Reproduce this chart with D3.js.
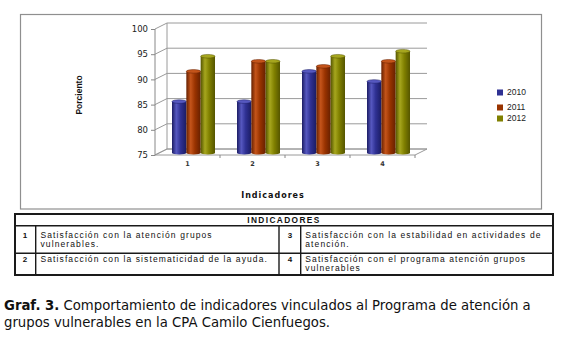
<!DOCTYPE html>
<html><head><meta charset="utf-8">
<script src="https://cdn.jsdelivr.net/npm/d3@7"></script>
<style>body{margin:0;background:#fff}svg{display:block}</style>
</head><body>
<script>
const categories = ["1","2","3","4"];
const seriesNames = ["2010","2011","2012"];
const values2010 = [85,85,91,89];
const values2011 = [91,93,92,93];
const values2012 = [94,93,94,95];
const yTicks = [75,80,85,90,95,100];
const tableNums = ["1","2","3","4"];
const tableTexts = [
  ["Satisfacción con la atención grupos","vulnerables."],
  ["Satisfacción con la sistematicidad de la ayuda."],
  ["Satisfacción con la estabilidad en actividades de","atención."],
  ["Satisfacción con el programa atención grupos","vulnerables"]
];
const tableTitle = "INDICADORES";
const yTitle = "Porciento";
const xTitle = "Indicadores";
const captionBold = "Graf. 3.";
const captionLine1 = " Comportamiento de indicadores vinculados al Programa de atención a";
const captionLine2 = "grupos vulnerables en la CPA Camilo Cienfuegos.";

const seriesValues = [values2010, values2011, values2012];
const colors = [
  {base:"#2f3193", light:"#5658c0", dark:"#1b1c63"},
  {base:"#993300", light:"#c4541a", dark:"#662000"},
  {base:"#808000", light:"#a6a61e", dark:"#555500"}
];

const W = 568, H = 340;
const svg = d3.select("body").append("svg").attr("width", W).attr("height", H);
svg.append("rect").attr("width", W).attr("height", H).attr("fill", "#fff");

const defs = svg.append("defs");
colors.forEach((c, i) => {
  const g = defs.append("linearGradient").attr("id", "cyl" + i)
    .attr("x1", "0%").attr("x2", "100%").attr("y1", "0%").attr("y2", "0%");
  g.append("stop").attr("offset", "0%").attr("stop-color", c.dark);
  g.append("stop").attr("offset", "30%").attr("stop-color", c.light);
  g.append("stop").attr("offset", "60%").attr("stop-color", c.base);
  g.append("stop").attr("offset", "100%").attr("stop-color", c.dark);
});

// chart border
svg.append("rect").attr("x", 20.5).attr("y", 14.5).attr("width", 521).attr("height", 194.5)
  .attr("fill", "none").attr("stroke", "#8f8f8f").attr("stroke-width", 1.2);

const dx = 12, dy = -6;
const y = d3.scaleLinear().domain([75, 100]).range([155, 29]);
const x = d3.scaleBand().domain(categories).range([155, 415]);
const xs = d3.scaleBand().domain(seriesNames).range([0, 43]);
const grid = "#9a9a9a";

const x0 = x.range()[0], x1 = x.range()[1];
yTicks.forEach(t => {
  svg.append("line").attr("x1", x0 + dx).attr("x2", x1 + dx)
    .attr("y1", y(t) + dy).attr("y2", y(t) + dy).attr("stroke", grid).attr("stroke-width", 1);
  svg.append("line").attr("x1", x0).attr("x2", x0 + dx)
    .attr("y1", y(t)).attr("y2", y(t) + dy).attr("stroke", grid).attr("stroke-width", 1);
});
svg.append("line").attr("x1", x0 + dx).attr("x2", x0 + dx)
  .attr("y1", y(100) + dy).attr("y2", y(75) + dy).attr("stroke", grid);
svg.append("path").attr("d", `M${x0},${y(75)}L${x1},${y(75)}L${x1 + dx},${y(75) + dy}L${x0 + dx},${y(75) + dy}Z`)
  .attr("fill", "none").attr("stroke", grid);
svg.append("line").attr("x1", x0).attr("x2", x0).attr("y1", y(100)).attr("y2", y(75)).attr("stroke", "#888");
const yAxis = svg.append("g").attr("transform", `translate(${x0},0)`)
  .call(d3.axisLeft(y).tickValues(yTicks).tickSize(4).tickPadding(3));
yAxis.select(".domain").remove();
yAxis.selectAll(".tick line").attr("stroke", "#888");
yAxis.selectAll(".tick text").attr("font-family", "DejaVu Sans").attr("font-size", 8.5).attr("fill", "#222");

const xAxis = svg.append("g").attr("transform", `translate(0,${y(75)})`)
  .call(d3.axisBottom(x).tickSize(0).tickPadding(6));
xAxis.select(".domain").remove();
xAxis.selectAll(".tick text").attr("font-family", "DejaVu Sans").attr("font-weight", "bold")
  .attr("font-size", 6.5).attr("fill", "#333");
categories.forEach(c => {
  const bx = x(c) + x.bandwidth();
  svg.append("line").attr("x1", bx).attr("x2", bx).attr("y1", y(75)).attr("y2", y(75) + 3).attr("stroke", "#888");
});

// bars
const bars = svg.append("g");
categories.forEach((c, ci) => {
  seriesNames.forEach((s, si) => {
    const v = seriesValues[si][ci];
    const bx = x(c) + (x.bandwidth() - xs.range()[1]) / 2 + dx / 2 + xs(s);
    const bw = xs.bandwidth();
    const top = y(v) + dy / 2;
    const bot = y(75) + dy / 2 + 1;
    bars.append("rect").attr("x", bx).attr("y", top).attr("width", bw).attr("height", bot - top)
      .attr("fill", `url(#cyl${si})`);
    bars.append("ellipse").attr("cx", bx + bw / 2).attr("cy", bot).attr("rx", bw / 2).attr("ry", 1.5)
      .attr("fill", `url(#cyl${si})`);
    bars.append("ellipse").attr("cx", bx + bw / 2).attr("cy", top).attr("rx", bw / 2).attr("ry", 1.8)
      .attr("fill", colors[si].light).attr("stroke", colors[si].dark).attr("stroke-width", 0.5);
  });
});

// legend
const legendOffsets = [0, 15, 26];
const lg = svg.append("g").attr("transform", "translate(497,92)");
seriesNames.forEach((s, i) => {
  lg.append("rect").attr("x", 0).attr("y", legendOffsets[i] - 2.5).attr("width", 6).attr("height", 6)
    .attr("fill", colors[i].base);
  lg.append("text").attr("x", 10).attr("y", legendOffsets[i] + 3).attr("font-family", "Liberation Sans")
    .attr("font-size", 8.5).attr("fill", "#222").text(s);
});

// axis titles
svg.append("text").attr("transform", "translate(82,95) rotate(-90)").attr("text-anchor", "middle")
  .attr("font-family", "Liberation Sans").attr("font-weight", "bold").attr("font-size", 8.5).attr("fill", "#111")
  .text(yTitle);
svg.append("text").attr("x", 273).attr("y", 198).attr("text-anchor", "middle")
  .attr("font-family", "DejaVu Sans").attr("font-weight", "bold").attr("font-size", 8).attr("letter-spacing", 1)
  .attr("fill", "#111").text(xTitle);

// table
const T = {x0: 15, x1: 553, y0: 214, yh: 225.7, yr: 253.3, y1: 275, c1: 35.7, c2: 279, c3: 300.7};
const tb = svg.append("g");
tb.append("rect").attr("x", T.x0).attr("y", T.y0).attr("width", T.x1 - T.x0).attr("height", T.y1 - T.y0)
  .attr("fill", "#fff").attr("stroke", "#1a1a1a").attr("stroke-width", 2);
[[T.x0, T.yh, T.x1, T.yh], [T.x0, T.yr, T.x1, T.yr],
 [T.c1, T.yh, T.c1, T.y1], [T.c2, T.yh, T.c2, T.y1], [T.c3, T.yh, T.c3, T.y1]].forEach(l => {
  tb.append("line").attr("x1", l[0]).attr("y1", l[1]).attr("x2", l[2]).attr("y2", l[3])
    .attr("stroke", "#1a1a1a").attr("stroke-width", 1.4);
});
tb.append("text").attr("x", (T.x0 + T.x1) / 2).attr("y", 223.3).attr("text-anchor", "middle")
  .attr("font-family", "Liberation Sans").attr("font-weight", "bold").attr("font-size", 8.3)
  .attr("letter-spacing", 1.4).attr("fill", "#111").text(tableTitle);
const cellPos = [
  {nx: 25, tx: 40.5, y: 237.5},
  {nx: 25, tx: 40.5, y: 262},
  {nx: 290, tx: 305.3, y: 237.5},
  {nx: 290, tx: 305.3, y: 262}
];
tableNums.forEach((n, i) => {
  const p = cellPos[i];
  tb.append("text").attr("x", p.nx).attr("y", p.y).attr("text-anchor", "middle")
    .attr("font-family", "Liberation Sans").attr("font-weight", "bold").attr("font-size", 8).attr("fill", "#111").text(n);
  tableTexts[i].forEach((line, li) => {
    tb.append("text").attr("x", p.tx).attr("y", p.y + li * 9.3)
      .attr("font-family", "Liberation Sans").attr("font-size", 8.5).attr("letter-spacing", 1.1)
      .attr("fill", "#111").text(line);
  });
});

// caption
const cap = svg.append("g").attr("font-family", "DejaVu Sans").attr("fill", "#111");
const l1 = cap.append("text").attr("x", 4).attr("y", 309.5).attr("font-size", 12);
l1.append("tspan").attr("font-weight", "bold").text(captionBold);
l1.append("tspan").text(captionLine1);
const w = l1.node().getComputedTextLength();
const fs = 12 * 527 / w;
l1.attr("font-size", fs);
cap.append("text").attr("x", 4).attr("y", 327).attr("font-size", fs).text(captionLine2);
</script>
</body></html>
